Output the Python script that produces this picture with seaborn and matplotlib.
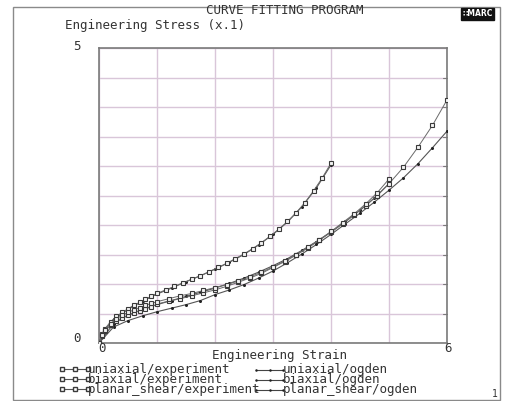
import numpy as np
import pandas as pd
import matplotlib
matplotlib.use("Agg")
import matplotlib.pyplot as plt
from matplotlib.lines import Line2D
from matplotlib.patches import Rectangle
import seaborn as sns

# ---------------- data ----------------
biax_exp_strain = [0.00, 0.05, 0.10, 0.20, 0.30, 0.40, 0.50, 0.60, 0.70, 0.80, 0.90, 1.00,
                   1.15, 1.30, 1.45, 1.60, 1.75, 1.90, 2.05, 2.20, 2.35, 2.50, 2.65, 2.80,
                   2.95, 3.10, 3.25, 3.40, 3.55, 3.70, 3.85, 4.00]
biax_exp_stress = [0.00, 0.15, 0.24, 0.36, 0.45, 0.52, 0.58, 0.64, 0.69, 0.74, 0.79, 0.84,
                   0.90, 0.96, 1.02, 1.08, 1.14, 1.21, 1.28, 1.35, 1.43, 1.51, 1.60, 1.70,
                   1.81, 1.93, 2.06, 2.21, 2.38, 2.58, 2.80, 3.05]

biax_ogd_strain = [0.0, 0.1, 0.25, 0.5, 0.75, 1.0, 1.25, 1.5, 1.75, 2.0, 2.25, 2.5, 2.75,
                   3.0, 3.25, 3.5, 3.75, 4.0]
biax_ogd_stress = [0.00, 0.22, 0.40, 0.57, 0.71, 0.83, 0.93, 1.04, 1.14, 1.25, 1.37, 1.50,
                   1.66, 1.84, 2.05, 2.31, 2.63, 3.02]

uni_exp_strain = [0.00, 0.05, 0.10, 0.20, 0.30, 0.40, 0.50, 0.60, 0.70, 0.80, 0.90, 1.00,
                  1.20, 1.40, 1.60, 1.80, 2.00, 2.20, 2.40, 2.60, 2.80, 3.00, 3.20, 3.40,
                  3.60, 3.80, 4.00, 4.20, 4.40, 4.60, 4.80, 5.00, 5.25, 5.50, 5.75, 6.00]
uni_exp_stress = [0.00, 0.12, 0.20, 0.30, 0.37, 0.43, 0.47, 0.51, 0.55, 0.58, 0.61, 0.66,
                  0.71, 0.75, 0.80, 0.85, 0.90, 0.96, 1.03, 1.10, 1.18, 1.28, 1.38, 1.49,
                  1.61, 1.74, 1.88, 2.02, 2.17, 2.33, 2.50, 2.70, 2.98, 3.32, 3.69, 4.12]

uni_ogd_strain = [0.0, 0.25, 0.5, 0.75, 1.0, 1.25, 1.5, 1.75, 2.0, 2.25, 2.5, 2.75, 3.0,
                  3.25, 3.5, 3.75, 4.0, 4.25, 4.5, 4.75, 5.0, 5.25, 5.5, 5.75, 6.0]
uni_ogd_stress = [0.00, 0.27, 0.38, 0.46, 0.53, 0.59, 0.65, 0.72, 0.82, 0.90, 0.99, 1.10,
                  1.22, 1.36, 1.51, 1.67, 1.84, 2.02, 2.20, 2.39, 2.59, 2.80, 3.04, 3.31, 3.59]

pla_exp_strain = [0.00, 0.05, 0.10, 0.20, 0.30, 0.40, 0.50, 0.60, 0.70, 0.80, 0.90, 1.00,
                  1.20, 1.40, 1.60, 1.80, 2.00, 2.20, 2.40, 2.60, 2.80, 3.00, 3.20, 3.40,
                  3.60, 3.80, 4.00, 4.20, 4.40, 4.60, 4.80, 5.00]
pla_exp_stress = [0.00, 0.14, 0.22, 0.33, 0.41, 0.47, 0.52, 0.56, 0.60, 0.64, 0.67, 0.70,
                  0.75, 0.80, 0.84, 0.89, 0.94, 0.99, 1.05, 1.12, 1.20, 1.29, 1.39, 1.50,
                  1.62, 1.75, 1.89, 2.04, 2.19, 2.36, 2.55, 2.78]

pla_ogd_strain = [0.0, 0.25, 0.5, 0.75, 1.0, 1.25, 1.5, 1.75, 2.0, 2.25, 2.5, 2.75, 3.0,
                  3.25, 3.5, 3.75, 4.0, 4.25, 4.5, 4.75, 5.0]
pla_ogd_stress = [0.00, 0.33, 0.47, 0.57, 0.65, 0.72, 0.79, 0.86, 0.93, 1.01, 1.10, 1.20,
                  1.31, 1.43, 1.57, 1.72, 1.88, 2.06, 2.25, 2.46, 2.70]

legend_exp = ["uniaxial/experiment", "biaxial/experiment", "planar_shear/experiment"]
legend_ogd = ["uniaxial/ogden", "biaxial/ogden", "planar_shear/ogden"]

title_text = "CURVE FITTING PROGRAM"
ylabel_text = "Engineering Stress (x.1)"
xlabel_text = "Engineering Strain"

# ---------------- figure ----------------
sns.set_style("white")
plt.rcParams["font.family"] = ["DejaVu Sans Mono", "DejaVu Sans"]

W, H = 506, 401
fig = plt.figure(figsize=(W / 100, H / 100), dpi=100)

def fx(px):
    return px / W

def fy(py):
    return 1 - py / H

ax_l, ax_r, ax_t, ax_b = 99, 447, 48, 343
ax = fig.add_axes([fx(ax_l), fy(ax_b), fx(ax_r) - fx(ax_l), fy(ax_t) - fy(ax_b)])

ink = "#3a3a3a"
exp_series = [(uni_exp_strain, uni_exp_stress), (biax_exp_strain, biax_exp_stress),
              (pla_exp_strain, pla_exp_stress)]
ogd_series = [(uni_ogd_strain, uni_ogd_stress), (biax_ogd_strain, biax_ogd_stress),
              (pla_ogd_strain, pla_ogd_stress)]

for xs, ys in ogd_series:
    sns.lineplot(x=xs, y=ys, ax=ax, sort=False, estimator=None, color="#555555",
                 lw=0.8, marker="o", markersize=2.2, markeredgewidth=0,
                 markerfacecolor="#222222", zorder=3)
for xs, ys in exp_series:
    sns.lineplot(x=xs, y=ys, ax=ax, sort=False, estimator=None, color="#6a6a6a",
                 lw=0.7, marker="s", markersize=3.3, markeredgewidth=0.8,
                 markeredgecolor=ink, markerfacecolor="#f4f4f4", zorder=4)

ax.set_xlim(0, 6)
ax.set_ylim(0, 5)
ax.set_xticks(np.arange(0, 7, 1))
ax.set_yticks(np.arange(0, 5.01, 0.5))
ax.tick_params(axis="both", length=0, labelbottom=False, labelleft=False)
ax.grid(True, color="#d9c6d9", lw=1.0)
ax.set_axisbelow(True)
ax.set_xlabel("")
ax.set_ylabel("")
for s in ["left", "bottom", "right", "top"]:
    ax.spines[s].set_color("#7a7a7a")
    ax.spines[s].set_linewidth(1.2)
# small inward ticks on the right spine
for v in np.arange(0.5, 5.0, 0.5):
    ax.plot([5.93, 6.0], [v, v], color="#7a7a7a", lw=0.8, clip_on=False, zorder=5)

fs = 9
tc = "#333333"
# outer frame
fig.add_artist(Rectangle((fx(13), fy(400)), fx(500) - fx(13), fy(7) - fy(400),
                         transform=fig.transFigure, fill=False, ec="#8a8a8a", lw=1.0))

fig.text(fx(285), fy(11), title_text, ha="center", va="center", fontsize=fs, color=tc)
fig.text(fx(65), fy(26), ylabel_text, ha="left", va="center", fontsize=fs, color=tc)
fig.text(fx(77), fy(47), "5", ha="center", va="center", fontsize=fs, color=tc)
fig.text(fx(77), fy(338), "0", ha="center", va="center", fontsize=fs, color=tc)
fig.text(fx(102), fy(349), "0", ha="center", va="center", fontsize=fs, color=tc)
fig.text(fx(448), fy(349), "6", ha="center", va="center", fontsize=fs, color=tc)
fig.text(fx(280), fy(355), xlabel_text, ha="center", va="center", fontsize=fs, color=tc)
fig.text(fx(495), fy(394), "1", ha="center", va="center", fontsize=7, color=tc)

# MARC badge
fig.add_artist(Rectangle((fx(461), fy(20)), fx(494) - fx(461), fy(8) - fy(20),
                         transform=fig.transFigure, fc="#111111", ec="#111111"))
fig.text(fx(477.5), fy(14), "\u2237MARC", ha="center", va="center", fontsize=5.5,
         color="white", fontweight="bold", family="DejaVu Sans")

# legend
rows = [369, 379, 389]
for i in range(3):
    y = rows[i]
    fig.add_artist(Line2D([fx(62), fx(75), fx(88)], [fy(y)] * 3, transform=fig.transFigure,
                          color="#555555", lw=0.8, marker="s", markersize=3.3,
                          markerfacecolor="white", markeredgecolor=ink))
    fig.add_artist(Line2D([fx(256), fx(270), fx(283)], [fy(y + 1)] * 3, transform=fig.transFigure,
                          color="#444444", lw=0.8, marker="o", markersize=1.8,
                          markerfacecolor="#222222", markeredgewidth=0))
fig.text(fx(88), fy(rows[1]), "\n".join(legend_exp), ha="left", va="center",
         fontsize=fs, color=tc, linespacing=0.7)
fig.text(fx(283), fy(rows[1]), "\n".join(legend_ogd), ha="left", va="center",
         fontsize=fs, color=tc, linespacing=0.7)

fig.savefig("out.png", dpi=100)
